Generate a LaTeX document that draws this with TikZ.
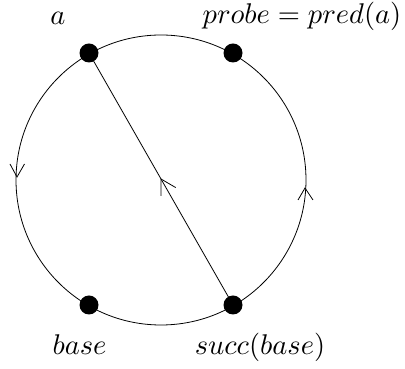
\documentclass[tikz,border=0pt]{standalone}
\usetikzlibrary{decorations.markings}
\begin{document}
\begin{tikzpicture}[x=1pt,y=1pt,line width=0.8pt,
  dot/.style={circle,fill=black,inner sep=0pt,minimum size=19pt},
  ring/.style={circle,draw,inner sep=0pt,minimum size=290pt},
  lbl/.style={anchor=base,inner sep=0pt,scale=2.85},
  midarrow/.style={postaction={decorate},decoration={markings,
    mark=at position 0.5 with {\draw (-14.7,8.5)--(0,0)--(-14.7,-8.5);}}}]
\useasboundingbox (0,0) rectangle (405,369);
\node[ring] (c) at (161,189) {};
\node[dot] (a) at (89,316) {};
\node[dot] (p) at (233,316) {};
\node[dot] (b) at (89,64) {};
\node[dot] (s) at (233,64) {};
\draw[midarrow] (s.center) -- (a.center);
% arrowheads on the circle
\coordinate (lt) at (17,192);
\coordinate (rt) at (305,181);
\draw (10,205) -- (lt) -- (24.5,205);
\draw (298,169) -- (rt) -- (313,169);
\node[lbl] (la) at (58,344) {$a$};
\node[lbl] (lp) at (302,345) {$probe=pred(a)$};
\node[lbl] (lb) at (79.5,14) {$base$};
\node[lbl] (ls) at (260,14) {$succ(base)$};
\end{tikzpicture}
\end{document}
